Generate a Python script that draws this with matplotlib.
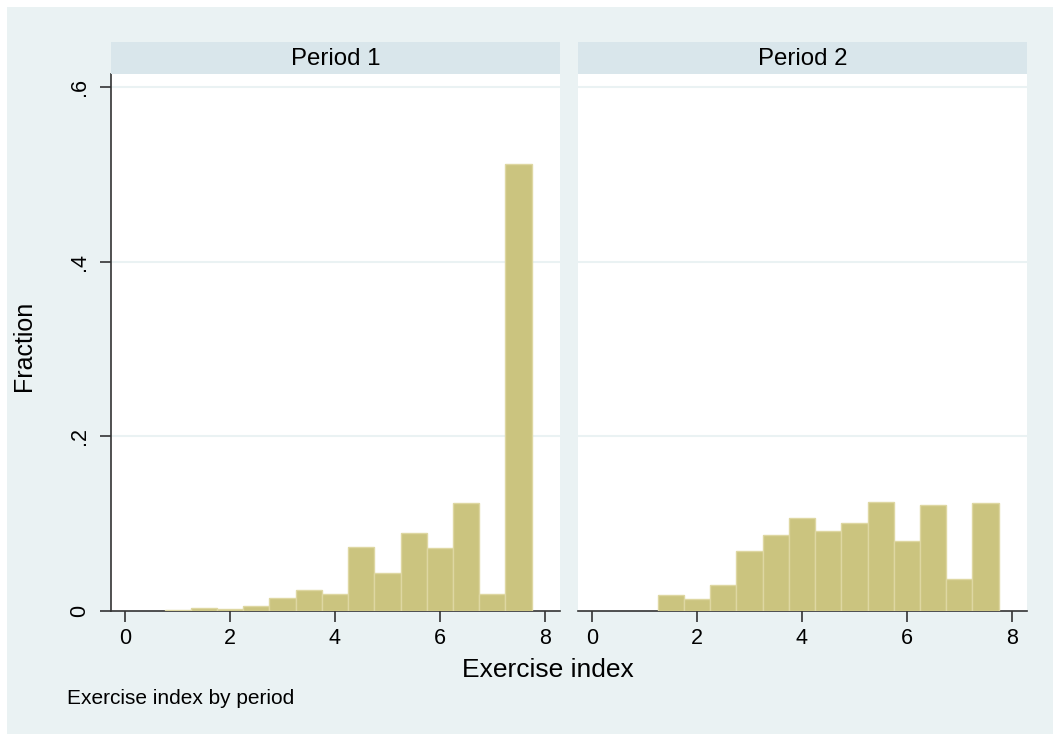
import numpy as np
import matplotlib
matplotlib.use("Agg")
import matplotlib.pyplot as plt
from matplotlib.patches import Rectangle

plt.rcParams['font.family'] = ['Liberation Sans', 'DejaVu Sans']

# Histogram bins (width 0.5) and fraction of observations in each bin
bin_width = 0.5
period1_edges = [0.75, 1.25, 1.75, 2.25, 2.75, 3.25, 3.75, 4.25, 4.75, 5.25,
                 5.75, 6.25, 6.75, 7.25]
period1_frac = [0.0011, 0.0034, 0.0023, 0.0057, 0.0149, 0.0237, 0.0198, 0.0730,
                0.0432, 0.0890, 0.0725, 0.1240, 0.0191, 0.5120]
period2_edges = [1.25, 1.75, 2.25, 2.75, 3.25, 3.75, 4.25, 4.75, 5.25, 5.75,
                 6.25, 6.75, 7.25]
period2_frac = [0.0180, 0.0134, 0.0294, 0.0691, 0.0871, 0.1066, 0.0920, 0.1004,
                0.1253, 0.0802, 0.1211, 0.0363, 0.1241]

panel_titles = ["Period 1", "Period 2"]
x_ticks = [0, 2, 4, 6, 8]
y_ticks = [0, 0.2, 0.4, 0.6]
y_ticklabels = ["0", ".2", ".4", ".6"]

W, H = 1053, 735
BG = "#EAF2F3"
STRIP = "#D9E6EB"
BAR = "#CBC47F"
BAR_EDGE = "#DED7A2"
AXIS = "#333333"

fig = plt.figure(figsize=(W / 100, H / 100), dpi=100, facecolor="white")
fig.patches.append(Rectangle((7 / W, 1 / H), 1 - 7 / W, (734 - 7) / H,
                             transform=fig.transFigure, facecolor=BG,
                             edgecolor="none", zorder=-10))

def fx(px):
    return px / W

def fy(py):
    return 1 - py / H

plot_top, plot_bot = 74, 611
strip_top = 42
panels = [(111, 560), (578, 1027)]
data = [(period1_edges, period1_frac), (period2_edges, period2_frac)]

for i, ((x0, x1), (edges, frac), title) in enumerate(zip(panels, data, panel_titles)):
    ax = fig.add_axes([fx(x0), fy(plot_bot), fx(x1 - x0), (plot_bot - plot_top) / H])
    ax.set_facecolor("white")
    ax.bar(edges, frac, width=bin_width, align="edge", color=BAR,
           edgecolor=BAR_EDGE, linewidth=1.0, zorder=3)
    ax.set_xlim(-0.27, 8.29)
    ax.set_ylim(0, 0.6153)
    for yv in y_ticks[1:]:
        ax.axhline(yv, color=BG, linewidth=1.5, zorder=1)
    ax.set_xticks(x_ticks)
    ax.set_xticklabels([str(t) for t in x_ticks])
    ax.tick_params(axis="x", direction="out", length=8, width=1.2, color=AXIS,
                   labelsize=15.5, pad=4, labelcolor="black")
    for side in ["top", "right"]:
        ax.spines[side].set_visible(False)
    ax.spines["bottom"].set_color(AXIS)
    ax.spines["bottom"].set_linewidth(1.2)
    if i == 0:
        ax.set_yticks(y_ticks)
        ax.set_yticklabels(y_ticklabels, rotation=90, va="center")
        ax.tick_params(axis="y", direction="out", length=8, width=1.2, color=AXIS,
                       labelsize=15.5, pad=7, labelcolor="black")
        ax.spines["left"].set_color(AXIS)
        ax.spines["left"].set_linewidth(1.2)
    else:
        ax.spines["left"].set_visible(False)
        ax.set_yticks([])

    # Panel strip with its title
    sax = fig.add_axes([fx(x0), fy(plot_top), fx(x1 - x0), (plot_top - strip_top) / H])
    sax.set_facecolor(STRIP)
    sax.set_xticks([])
    sax.set_yticks([])
    for sp in sax.spines.values():
        sp.set_visible(False)
    sax.text(0.5, 0.47, title, ha="center", va="center", fontsize=17.3,
             transform=sax.transAxes)

fig.text(fx(548), fy(670), "Exercise index", ha="center", va="center", fontsize=19)
fig.text(fx(24), fy(346), "Fraction", ha="center", va="center", fontsize=18,
         rotation=90)
fig.text(fx(67), fy(698), "Exercise index by period", ha="left", va="center",
         fontsize=15)

fig.savefig("out.png", dpi=100, facecolor="white")
